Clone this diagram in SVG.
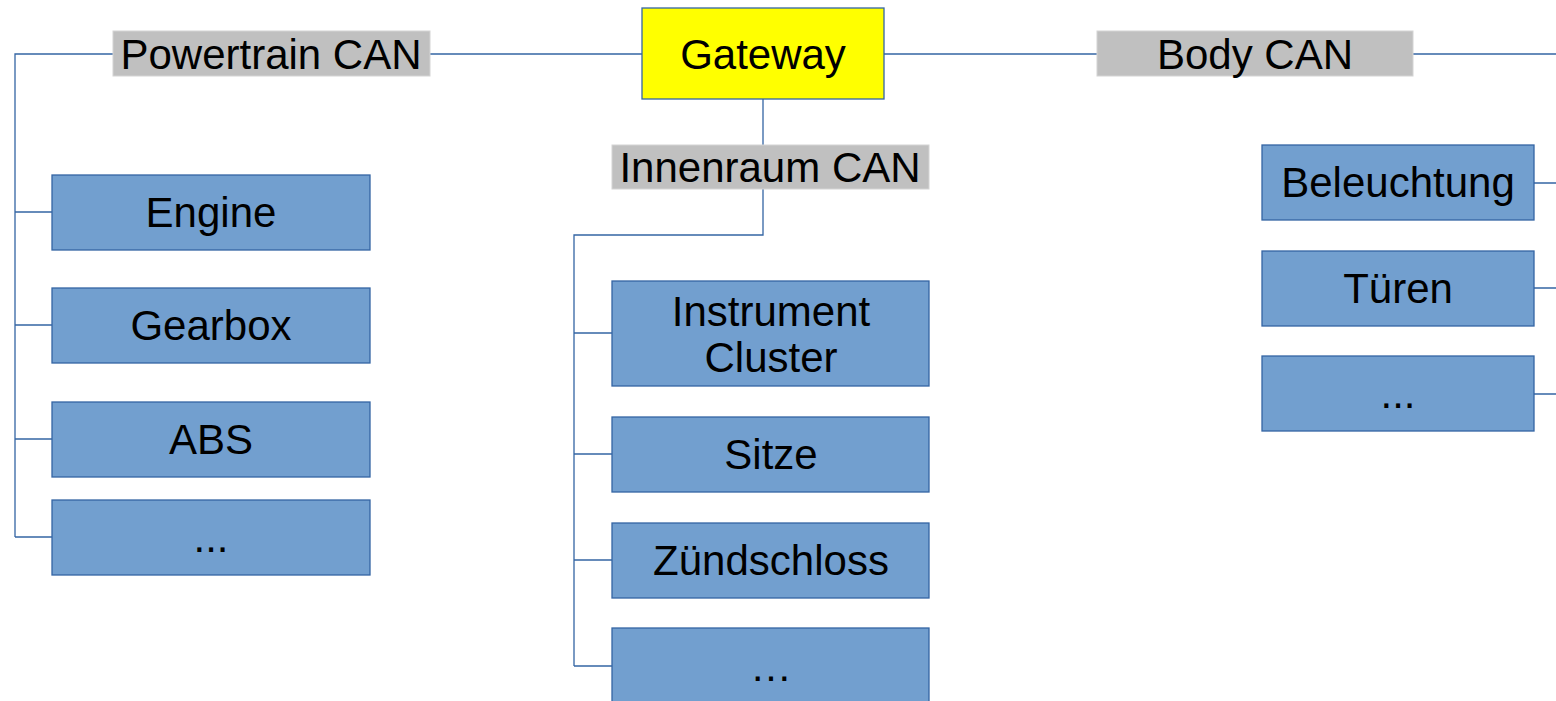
<svg xmlns="http://www.w3.org/2000/svg" width="1556" height="701" viewBox="0 0 1556 701">
  <style>
    .wire { fill: none; stroke: #3465a4; stroke-width: 1.3; }
    .ecu { fill: #729fcf; stroke: #3465a4; stroke-width: 1.3; }
    .bus { fill: #c0c0c0; stroke: #d4d4d4; stroke-width: 1; }
    .gw { fill: #ffff00; stroke: #3465a4; stroke-width: 1.3; }
    text { font-family: "Liberation Sans", Arial, sans-serif; font-size: 42px; fill: #000; text-anchor: middle; }
  </style>
  <rect width="1556" height="701" fill="#ffffff"/>

  <!-- bus wiring -->
  <g id="connectors">
    <!-- Powertrain CAN -->
    <path class="wire" d="M113 54 H15 V537 M430 54 H642"/>
    <path class="wire" d="M15 212 H52 M15 325 H52 M15 439 H52 M15 537 H52"/>
    <!-- Body CAN -->
    <path class="wire" d="M884 54 H1097 M1413 54 H1556"/>
    <path class="wire" d="M1534 183 H1556 M1534 288 H1556 M1534 394 H1556"/>
    <!-- Innenraum CAN -->
    <path class="wire" d="M763 99 V145 M763 189 V235 H574 V666"/>
    <path class="wire" d="M574 333 H612 M574 454 H612 M574 560 H612 M574 666 H612"/>
  </g>

  <!-- central gateway -->
  <g id="gateway">
    <rect class="gw" x="642" y="8" width="242" height="91"/>
    <text x="763" y="69">Gateway</text>
  </g>

  <!-- bus labels -->
  <g id="powertrain-can">
    <rect class="bus" x="113" y="31" width="317" height="45"/>
    <text x="271" y="69">Powertrain CAN</text>
  </g>
  <g id="body-can">
    <rect class="bus" x="1097" y="31" width="316" height="45"/>
    <text x="1255" y="69">Body CAN</text>
  </g>
  <g id="innenraum-can">
    <rect class="bus" x="612" y="145" width="317" height="44"/>
    <text x="770" y="182">Innenraum CAN</text>
  </g>

  <!-- Powertrain ECUs -->
  <g id="engine">
    <rect class="ecu" x="52" y="175" width="318" height="75"/>
    <text x="211" y="227">Engine</text>
  </g>
  <g id="gearbox">
    <rect class="ecu" x="52" y="288" width="318" height="75"/>
    <text x="211" y="340">Gearbox</text>
  </g>
  <g id="abs">
    <rect class="ecu" x="52" y="402" width="318" height="75"/>
    <text x="211" y="454">ABS</text>
  </g>
  <g id="powertrain-more">
    <rect class="ecu" x="52" y="500" width="318" height="75"/>
    <text x="211" y="552">...</text>
  </g>

  <!-- Innenraum ECUs -->
  <g id="instrument-cluster">
    <rect class="ecu" x="612" y="281" width="317" height="105"/>
    <text x="771" y="326">Instrument</text>
    <text x="771" y="372">Cluster</text>
  </g>
  <g id="sitze">
    <rect class="ecu" x="612" y="417" width="317" height="75"/>
    <text x="771" y="469">Sitze</text>
  </g>
  <g id="zuendschloss">
    <rect class="ecu" x="612" y="523" width="317" height="75"/>
    <text x="771" y="575">Zündschloss</text>
  </g>
  <g id="innenraum-more">
    <rect class="ecu" x="612" y="628" width="317" height="76"/>
    <text x="771" y="681">…</text>
  </g>

  <!-- Body ECUs -->
  <g id="beleuchtung">
    <rect class="ecu" x="1262" y="145" width="272" height="75"/>
    <text x="1398" y="197">Beleuchtung</text>
  </g>
  <g id="tueren">
    <rect class="ecu" x="1262" y="251" width="272" height="75"/>
    <text x="1398" y="303">Türen</text>
  </g>
  <g id="body-more">
    <rect class="ecu" x="1262" y="356" width="272" height="75"/>
    <text x="1398" y="408">...</text>
  </g>
</svg>
